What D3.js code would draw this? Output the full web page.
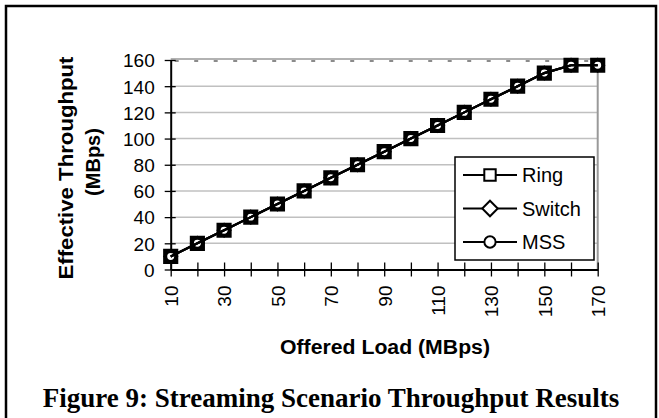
<!DOCTYPE html>
<html>
<head>
<meta charset="utf-8">
<script src="https://cdn.jsdelivr.net/npm/d3@7/dist/d3.min.js"></script>
<style>
    body { margin: 0; background: #fff; }
    svg { display: block; }
    text { font-family: "Liberation Sans", Arial, sans-serif; fill: #000; }
</style>
</head>
<body>
<svg width="659" height="418"></svg>
<script>

// Chart data
const loads = [10, 20, 30, 40, 50, 60, 70, 80, 90, 100, 110, 120, 130, 140, 150, 160, 170];
const ring = [10, 20, 30, 40, 50, 60, 70, 80, 90, 100, 110, 120, 130, 140, 150, 156, 156];
const switchTp = [10, 20, 30, 40, 50, 60, 70, 80, 90, 100, 110, 120, 130, 140, 150, 156, 156];
const mss = [10, 20, 30, 40, 50, 60, 70, 80, 90, 100, 110, 120, 130, 140, 150, 156, 156];
const yTicks = [0, 20, 40, 60, 80, 100, 120, 140, 160];
const seriesNames = ['Ring', 'Switch', 'MSS'];

// square diamond (d3's own diamond is taller than wide)
const symbolRhomb = {
    draw: function (context, size) {
        let r = Math.sqrt(size / 2);
        context.moveTo(0, -r);
        context.lineTo(r, 0);
        context.lineTo(0, r);
        context.lineTo(-r, 0);
        context.closePath();
    }
};

const series = [
    { name: seriesNames[0], values: ring, symbol: d3.symbolSquare },
    { name: seriesNames[1], values: switchTp, symbol: symbolRhomb },
    { name: seriesNames[2], values: mss, symbol: d3.symbolCircle }
];

const svg = d3.select('svg');

// outer frame
svg.append('rect')
    .attr('x', 6).attr('y', 6)
    .attr('width', 650).attr('height', 430)
    .attr('fill', 'none')
    .attr('stroke', '#000')
    .attr('stroke-width', 2.5);

const x = d3.scalePoint()
    .domain(loads)
    .range([170.7, 597.7]);

const y = d3.scaleLinear()
    .domain([0, 160])
    .range([269.5, 60]);

// gridlines
svg.append('g')
    .selectAll('line')
    .data(yTicks.filter(d => d > 0 && d < 160))
    .enter()
    .append('line')
    .attr('x1', x.range()[0]).attr('x2', x.range()[1])
    .attr('y1', d => y(d)).attr('y2', d => y(d))
    .attr('stroke', '#c0c0c0')
    .attr('stroke-width', 1.5);

// top and right border of plot
svg.append('line')
    .attr('x1', x.range()[0]).attr('x2', x.range()[1])
    .attr('y1', y(160) - 1).attr('y2', y(160) - 1)
    .attr('stroke', '#999')
    .attr('stroke-width', 1.5);

svg.append('line')
    .attr('x1', x.range()[0] + 4).attr('x2', x.range()[1])
    .attr('y1', y(160) + 1).attr('y2', y(160) + 1)
    .attr('stroke', '#666')
    .attr('stroke-width', 1.5)
    .attr('stroke-dasharray', '4,15.5');

svg.append('line')
    .attr('x1', x.range()[1]).attr('x2', x.range()[1])
    .attr('y1', y(160) - 1.5).attr('y2', y(0))
    .attr('stroke', '#999')
    .attr('stroke-width', 2);

// axes
let xAxis = svg.append('g')
    .attr('transform', 'translate(0,' + y(0) + ')')
    .call(d3.axisBottom(x).tickSizeOuter(0).tickFormat((d, i) => i % 2 === 0 ? d : ''));

xAxis.select('.domain').attr('stroke', '#000').attr('stroke-width', 2);
xAxis.selectAll('.tick line').attr('y1', -7).attr('y2', 7).attr('stroke', '#000').attr('stroke-width', 1.3);
xAxis.selectAll('.tick text')
    .attr('transform', 'translate(0,16) rotate(-90)')
    .attr('x', 0).attr('y', 0)
    .attr('dy', '0.36em')
    .attr('text-anchor', 'end')
    .style('font-size', '19px')
    .style('font-family', '"Liberation Sans", Arial, sans-serif')
    .attr('fill', '#000');

let yAxis = svg.append('g')
    .attr('transform', 'translate(' + x.range()[0] + ',0)')
    .call(d3.axisLeft(y).tickValues(yTicks).tickSizeOuter(0));

yAxis.select('.domain').attr('stroke', '#000').attr('stroke-width', 2);
yAxis.selectAll('.tick line').attr('x1', -6).attr('x2', 5).attr('stroke', '#000').attr('stroke-width', 1.3);
yAxis.selectAll('.tick text')
    .attr('x', -16)
    .attr('dy', '0.36em')
    .style('font-size', '19px')
    .style('font-family', '"Liberation Sans", Arial, sans-serif')
    .attr('fill', '#000');

// markers first, lines drawn over them
const markerFill = ['#000', '#000', '#fff'];
const markerSize = [160, 72, 70];

series.forEach(function (s, k) {
    svg.append('g')
        .selectAll('path')
        .data(s.values)
        .enter()
        .append('path')
        .attr('transform', (d, i) => 'translate(' + x(loads[i]) + ',' + y(d) + ')')
        .attr('d', d3.symbol().type(s.symbol).size(markerSize[k]))
        .attr('fill', markerFill[k])
        .attr('stroke', '#000')
        .attr('stroke-width', 2.5);
});

let line = d3.line()
    .x((d, i) => x(loads[i]))
    .y(d => y(d));

series.forEach(function (s) {
    svg.append('path')
        .datum(s.values)
        .attr('d', line)
        .attr('fill', 'none')
        .attr('stroke', '#000')
        .attr('stroke-width', 2.2);
});

// legend
let legend = svg.append('g');

legend.append('rect')
    .attr('x', 455).attr('y', 157)
    .attr('width', 139).attr('height', 103)
    .attr('fill', '#fff')
    .attr('stroke', '#000')
    .attr('stroke-width', 1.5);

const legendY = [175, 208.5, 242];
const legendSize = [130, 120, 100];

series.forEach(function (s, k) {
    let g = legend.append('g').attr('transform', 'translate(0,' + legendY[k] + ')');
    g.append('line')
        .attr('x1', 463).attr('x2', 517)
        .attr('stroke', '#000').attr('stroke-width', 2.2);
    g.append('path')
        .attr('transform', 'translate(490,0)')
        .attr('d', d3.symbol().type(s.symbol).size(legendSize[k]))
        .attr('fill', '#fff')
        .attr('stroke', '#000')
        .attr('stroke-width', 2);
    g.append('text')
        .attr('x', 522)
        .attr('dy', '0.36em')
        .style('font-size', '20px')
        .text(s.name);
});

// axis titles
svg.append('text')
    .attr('x', 385).attr('y', 354)
    .attr('text-anchor', 'middle')
    .style('font-size', '20px')
    .style('font-weight', 'bold')
    .attr('textLength', 210)
    .attr('lengthAdjust', 'spacingAndGlyphs')
    .text('Offered Load (MBps)');

svg.append('text')
    .attr('transform', 'translate(73,168) rotate(-90)')
    .attr('text-anchor', 'middle')
    .style('font-size', '20px')
    .style('font-weight', 'bold')
    .attr('textLength', 223)
    .attr('lengthAdjust', 'spacingAndGlyphs')
    .text('Effective Throughput');

svg.append('text')
    .attr('transform', 'translate(100,162) rotate(-90)')
    .attr('text-anchor', 'middle')
    .style('font-size', '20px')
    .style('font-weight', 'bold')
    .text('(MBps)');

// caption
svg.append('text')
    .attr('x', 331).attr('y', 407)
    .attr('text-anchor', 'middle')
    .style('font-family', '"Liberation Serif", "Times New Roman", serif')
    .style('font-size', '27px')
    .style('font-weight', 'bold')
    .text('Figure 9: Streaming Scenario Throughput Results');

</script>
</body>
</html>
